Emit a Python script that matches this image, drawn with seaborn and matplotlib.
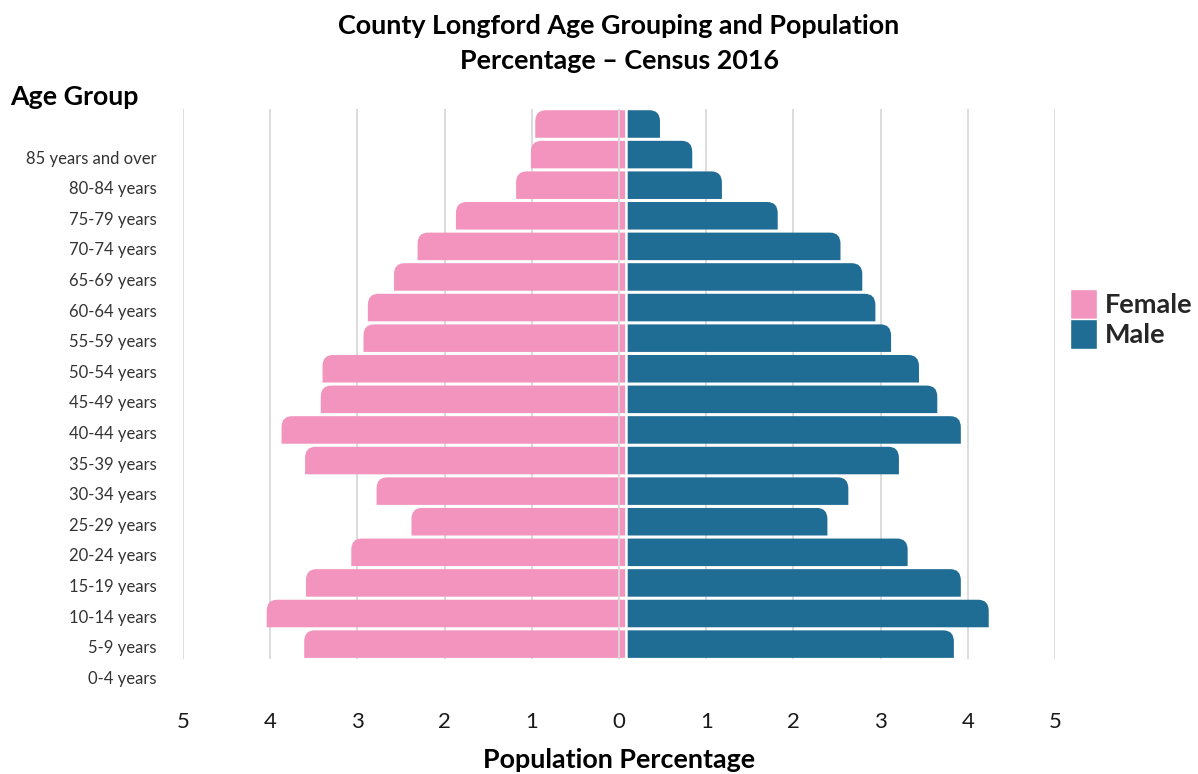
import matplotlib
matplotlib.use("Agg")
import matplotlib.pyplot as plt
from matplotlib.path import Path
from matplotlib.patches import PathPatch, Patch
from matplotlib.transforms import ScaledTranslation
import pandas as pd
import seaborn as sns

# Data (top bar first)
age_groups = ["85 years and over", "80-84 years", "75-79 years", "70-74 years",
              "65-69 years", "60-64 years", "55-59 years", "50-54 years",
              "45-49 years", "40-44 years", "35-39 years", "30-34 years",
              "25-29 years", "20-24 years", "15-19 years", "10-14 years",
              "5-9 years", "0-4 years"]
female = [0.96, 1.01, 1.18, 1.87, 2.31, 2.58, 2.88, 2.93, 3.40, 3.42,
          3.87, 3.60, 2.78, 2.38, 3.07, 3.59, 4.04, 3.61]
male = [0.47, 0.84, 1.18, 1.82, 2.54, 2.79, 2.94, 3.12, 3.44, 3.65,
        3.92, 3.21, 2.63, 2.39, 3.31, 3.92, 4.24, 3.84]
x_ticks = [-5, -4, -3, -2, -1, 0, 1, 2, 3, 4, 5]
x_tick_labels = ["5", "4", "3", "2", "1", "0", "1", "2", "3", "4", "5"]

pink = "#F294BE"
blue = "#1F6C94"

sns.set_style("white")
plt.rcParams['font.family'] = ['Lato', 'DejaVu Sans']

df = pd.DataFrame({"age": age_groups * 2,
                   "value": [-v for v in female] + male,
                   "sex": ["Female"] * len(female) + ["Male"] * len(male)})

fig = plt.figure(figsize=(11.98, 7.74), dpi=100)
ax = fig.add_axes([183 / 1198, 1 - 690 / 774, 872 / 1198, (690 - 108.7) / 774])

# grid lines first, behind the bars
ax.vlines(x_ticks, -0.5, 17.5, color="#D9D9D9", linewidth=1.3, zorder=0)

sns.barplot(data=df, x="value", y="age", hue="sex", order=age_groups,
            palette={"Female": pink, "Male": blue}, orient="h", dodge=False,
            width=0.9, legend=False, ax=ax, saturation=1)

# swap rectangles for bars with a rounded top outer corner
rx, ry = 0.12, 0.36
for p in list(ax.patches):
    x, y, w, h = p.get_x(), p.get_y(), p.get_width(), p.get_height()
    if w == 0:
        continue
    lo, hi = min(x, x + w), max(x, x + w)
    color = p.get_facecolor()
    ytop, ybot = min(y, y + h), max(y, y + h)
    if hi > 0:  # male
        x0, x1, s = 0.10, hi, 1
    else:  # female
        x0, x1, s = 0.07, lo, -1
    verts = [(x0, ybot), (x1, ybot), (x1, ytop + ry), (x1, ytop),
             (x1 - s * rx, ytop), (x0, ytop), (x0, ybot)]
    codes = [Path.MOVETO, Path.LINETO, Path.LINETO, Path.CURVE3,
             Path.CURVE3, Path.LINETO, Path.CLOSEPOLY]
    p.remove()
    ax.add_patch(PathPatch(Path(verts, codes), facecolor=color,
                           edgecolor="none", zorder=2))

ax.vlines([0], -0.5, 17.5, color="#D9D9D9", linewidth=1.3, zorder=3)

ax.set_xlim(-5, 5)
ax.set_ylim(18.5, -0.5)
ax.set_xticks(x_ticks)
ax.set_xticklabels(x_tick_labels, fontsize=16, color="#1a1a1a")
# labels sit one row below the bars, as in the original
ax.set_yticks(range(1, len(age_groups) + 1))
ax.set_yticklabels(age_groups, fontsize=12, color="#333333")
ax.tick_params(axis="x", length=0, pad=16)
ax.tick_params(axis="y", length=0, pad=19)
shift = ScaledTranslation(0, -2.5 / 100, fig.dpi_scale_trans)
for lab in ax.get_yticklabels():
    lab.set_transform(lab.get_transform() + shift)
ax.set_xlabel("")
ax.set_ylabel("")
sns.despine(ax=ax, left=True, bottom=True)
ax.grid(False)

fig.text(619 / 1198, 1 - 26 / 774, "County Longford Age Grouping and Population",
         ha="center", va="center", fontsize=19.4, fontweight="bold", color="black")
fig.text(619 / 1198, 1 - 61 / 774, "Percentage \u2013 Census 2016",
         ha="center", va="center", fontsize=19.4, fontweight="bold", color="black")
fig.text(10 / 1198, 1 - 97 / 774, "Age Group", ha="left", va="center",
         fontsize=19.3, fontweight="bold", color="black")
fig.text(619 / 1198, 1 - 760 / 774, "Population Percentage", ha="center",
         va="center", fontsize=19.4, fontweight="bold", color="black")

handles = [Patch(facecolor=pink, label="Female"), Patch(facecolor=blue, label="Male")]
leg = fig.legend(handles=handles, loc="center left",
                 bbox_to_anchor=(1070 / 1198, 1 - 319 / 774),
                 frameon=False, prop={"size": 19.5, "weight": "bold"},
                 handlelength=1.0, handleheight=1.3, handletextpad=0.3,
                 labelspacing=0.0, borderpad=0, borderaxespad=0)

fig.savefig("out.png", dpi=100)
